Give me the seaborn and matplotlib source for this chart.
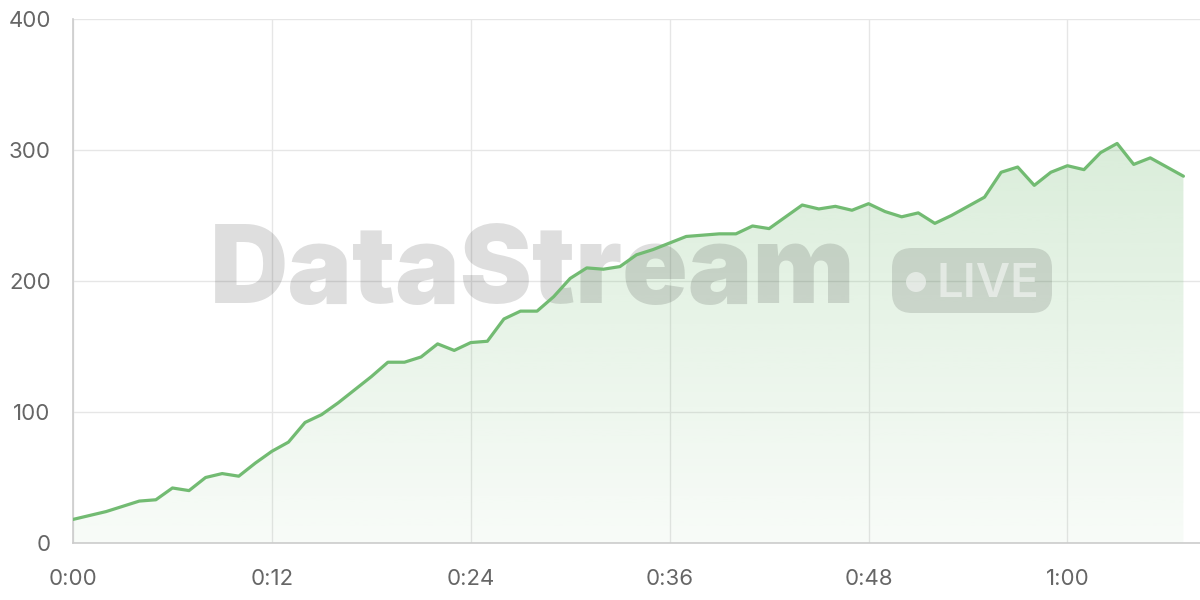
import numpy as np
import pandas as pd
import matplotlib
matplotlib.use("Agg")
import matplotlib.pyplot as plt
import seaborn as sns
from matplotlib.patches import FancyBboxPatch, Circle, Polygon
from matplotlib.transforms import IdentityTransform

# dados (um ponto por minuto)
minutos = list(range(68))
valores = [18, 21, 24, 28, 32, 33, 42, 40, 50, 53,
           51, 61, 70, 77, 92, 98, 107, 117, 127, 138,
           138, 142, 152, 147, 153, 154, 171, 177, 177, 188,
           202, 210, 209, 211, 220, 224, 229, 234, 235, 236,
           236, 242, 240, 249, 258, 255, 257, 254, 259, 253,
           249, 252, 244, 250, 257, 264, 283, 287, 273, 283,
           288, 285, 298, 305, 289, 294, 287, 280]
posicoes_ticks = [0, 12, 24, 36, 48, 60]
rotulos_ticks = ["0:00", "0:12", "0:24", "0:36", "0:48", "1:00"]

cor_linha = "#72bb72"
cor_grade = "#e6e6e6"
cor_texto = "#666666"

df = pd.DataFrame({"minuto": minutos, "valor": valores})

sns.set_theme(style="whitegrid")
plt.rcParams["font.family"] = ["Inter", "DejaVu Sans"]

fig = plt.figure(figsize=(12, 6), dpi=100)
ax = fig.add_axes([73 / 1200, 57 / 600, 1 - 73 / 1200, 524 / 600])

# linha principal
sns.lineplot(data=df, x="minuto", y="valor", color=cor_linha, linewidth=2.3, ax=ax, zorder=4)

# preenchimento em degradê abaixo da linha
ymax = max(valores)
grad = np.linspace(0.05, 0.26, 256).reshape(-1, 1)
rgba = np.zeros((256, 1, 4))
rgba[:, :, :3] = matplotlib.colors.to_rgb(cor_linha)
rgba[:, :, 3] = grad
img = ax.imshow(rgba, origin="lower", aspect="auto",
                extent=[minutos[0], minutos[-1], 0, ymax], zorder=1)
verts = [(minutos[0], 0)] + list(zip(minutos, valores)) + [(minutos[-1], 0)]
poly = Polygon(verts, closed=True, facecolor="none", edgecolor="none")
ax.add_patch(poly)
img.set_clip_path(poly)

# marca d'água
ax.text(210, 297, "DataStream", transform=IdentityTransform(), fontsize=78,
        fontweight="black", color="black", alpha=0.13, ha="left", va="baseline", zorder=2)
badge = FancyBboxPatch((892 + 20, 287 + 20), 160 - 40, 65 - 40,
                       boxstyle="round,pad=20", transform=IdentityTransform(),
                       facecolor="black", edgecolor="none", alpha=0.12, zorder=2)
ax.add_patch(badge)
ax.add_patch(Circle((916, 318), 10, transform=IdentityTransform(),
                    facecolor="white", edgecolor="none", alpha=0.5, zorder=3))
ax.text(937, 303, "LIVE", transform=IdentityTransform(), fontsize=34,
        fontweight="semibold", color="white", alpha=0.5, ha="left", va="baseline", zorder=3)

# eixos
ax.set_xlim(0, 68)
ax.set_ylim(0, 400)
ax.set_xticks(posicoes_ticks)
ax.set_xticklabels(rotulos_ticks)
ax.set_yticks([0, 100, 200, 300, 400])
ax.set_xlabel("")
ax.set_ylabel("")
ax.grid(True, color=cor_grade, linewidth=1)
ax.set_axisbelow(True)
for lado in ["top", "right"]:
    ax.spines[lado].set_visible(False)
for lado in ["left", "bottom"]:
    ax.spines[lado].set_color("#cccccc")
    ax.spines[lado].set_linewidth(1.2)
ax.tick_params(axis="both", length=11, width=1, color=cor_grade,
               labelcolor=cor_texto, labelsize=16)
ax.tick_params(axis="x", pad=8)
ax.tick_params(axis="y", pad=5)

fig.savefig("out.png", dpi=100)
